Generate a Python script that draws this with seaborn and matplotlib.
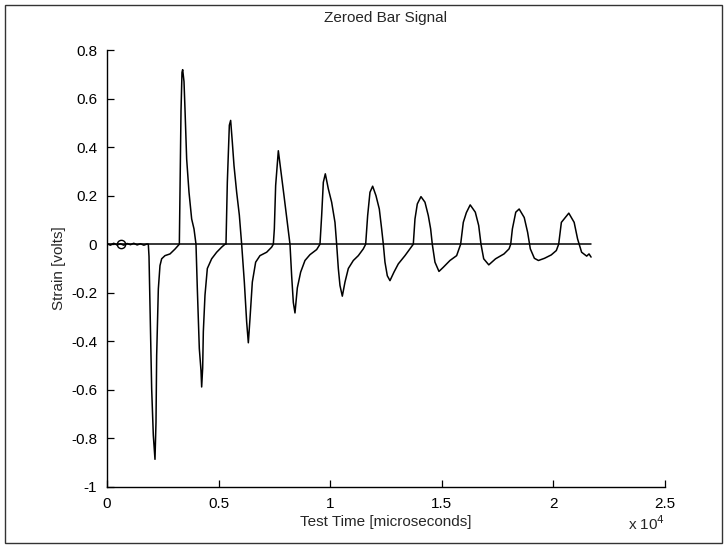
import matplotlib
matplotlib.use("Agg")
import matplotlib.pyplot as plt
from matplotlib.patches import Rectangle
import pandas as pd
import seaborn as sns

# Strain gauge trace, time in microseconds, strain in volts
time_us = [
    0, 150, 300, 450, 600, 750, 900, 1050, 1200, 1350, 1500, 1650, 1800,
    1851, 1882, 2001, 2075, 2150, 2195, 2225, 2300, 2374, 2449, 2598, 2822, 3046, 3196,
    3241, 3271, 3316, 3360, 3390, 3450, 3494, 3569, 3674, 3793, 3898, 3987,
    4047, 4136, 4211, 4241, 4286, 4316, 4390, 4495, 4689, 4913, 5137, 5286,
    5331, 5391, 5481, 5540, 5615, 5690, 5809, 5929, 6033,
    6153, 6257, 6332, 6406, 6511, 6660, 6854, 7153, 7377, 7452,
    7497, 7556, 7676, 7780, 7930, 8079, 8198,
    8273, 8348, 8422, 8527, 8676, 8870, 9094, 9393, 9542,
    9617, 9692, 9781, 9916, 10065, 10214, 10289,
    10364, 10438, 10543, 10662, 10812, 11036, 11260, 11484, 11589,
    11678, 11782, 11902, 12051, 12200, 12305, 12380,
    12454, 12559, 12678, 12857, 13051, 13350, 13574, 13723,
    13798, 13903, 14067, 14246, 14395, 14500, 14574,
    14694, 14873, 15067, 15366, 15665, 15844,
    15963, 16100, 16272, 16501, 16653, 16756,
    16877, 17105, 17409, 17786, 18014, 18087,
    18162, 18314, 18466, 18693, 18845, 18966,
    19148, 19329, 19601, 19904, 20131, 20236,
    20357, 20690, 20930, 21083, 21264, 21491, 21596, 21688,
]
strain_v = [
    0.003, -0.004, 0.004, -0.003, 0.002, -0.004, 0.003, -0.002, 0.004, -0.003, 0.002, -0.004, 0.001,
    0.0, -0.05, -0.595, -0.787, -0.886, -0.733, -0.458, -0.184, -0.088, -0.06, -0.047, -0.04, -0.02, -0.005,
    0.0, 0.228, 0.55, 0.708, 0.719, 0.67, 0.557, 0.351, 0.214, 0.104, 0.063, 0.0,
    -0.184, -0.43, -0.52, -0.588, -0.51, -0.36, -0.21, -0.10, -0.06, -0.033, -0.012, 0.0,
    0.0, 0.255, 0.49, 0.51, 0.42, 0.324, 0.214, 0.12, 0.0,
    -0.156, -0.32, -0.406, -0.307, -0.156, -0.074, -0.047, -0.033, -0.012, 0.0,
    0.063, 0.242, 0.385, 0.31, 0.2, 0.09, 0.0,
    -0.13, -0.24, -0.283, -0.18, -0.115, -0.067, -0.043, -0.022, 0.0,
    0.118, 0.255, 0.29, 0.228, 0.173, 0.09, 0.0,
    -0.10, -0.17, -0.214, -0.156, -0.10, -0.067, -0.047, -0.019, 0.0,
    0.118, 0.214, 0.239, 0.2, 0.145, 0.063, 0.0,
    -0.074, -0.13, -0.15, -0.115, -0.081, -0.047, -0.019, 0.0,
    0.104, 0.166, 0.196, 0.173, 0.118, 0.063, 0.0,
    -0.074, -0.112, -0.095, -0.067, -0.047, 0.0,
    0.09, 0.13, 0.162, 0.132, 0.077, 0.0,
    -0.06, -0.085, -0.06, -0.04, -0.019, 0.0,
    0.063, 0.132, 0.145, 0.11, 0.049, -0.019,
    -0.058, -0.067, -0.058, -0.044, -0.026, 0.0,
    0.09, 0.128, 0.09, 0.022, -0.033, -0.049, -0.04, -0.053,
]

# Zero reference line and trigger point
zero_t = [0, 21700]
zero_v = [0.0, 0.0]
trigger_t = [614]
trigger_v = [0.0]

x_ticks = [0, 5000, 10000, 15000, 20000, 25000]
x_tick_labels = ["0", "0.5", "1", "1.5", "2", "2.5"]
y_ticks = [-1, -0.8, -0.6, -0.4, -0.2, 0, 0.2, 0.4, 0.6, 0.8]
y_tick_labels = ["-1", "-0.8", "-0.6", "-0.4", "-0.2", "0", "0.2", "0.4", "0.6", "0.8"]

sns.set_style("ticks")
plt.rcParams["font.family"] = ["Liberation Sans", "DejaVu Sans"]
plt.rcParams["xtick.direction"] = "in"
plt.rcParams["ytick.direction"] = "in"

signal = pd.DataFrame({"t": time_us, "v": strain_v})
zero = pd.DataFrame({"t": zero_t, "v": zero_v})
trig = pd.DataFrame({"t": trigger_t, "v": trigger_v})

fig = plt.figure(figsize=(7.27, 5.48), dpi=100)
ax = fig.add_axes([107 / 727, 1 - 487 / 548, 558 / 727, 437 / 548])

sns.lineplot(data=zero, x="t", y="v", ax=ax, color="black", lw=1.1, sort=False, estimator=None)
sns.lineplot(data=signal, x="t", y="v", ax=ax, color="black", lw=1.1, sort=False, estimator=None)
ax.plot(trig["t"], trig["v"], "o", mfc="none", mec="black", ms=6, mew=1.0)

ax.set_xlim(0, 25000)
ax.set_ylim(-1, 0.8)
ax.set_xticks(x_ticks)
ax.set_xticklabels(x_tick_labels)
ax.set_yticks(y_ticks)
ax.set_yticklabels(y_tick_labels)
ax.tick_params(axis="both", length=5, width=0.9, colors="black", labelsize=11, pad=7)

for side in ("top", "right"):
    ax.spines[side].set_visible(False)
for side in ("left", "bottom"):
    ax.spines[side].set_color("black")
    ax.spines[side].set_linewidth(1.0)

ax.set_title("Zeroed Bar Signal", fontsize=11, pad=20)
ax.set_xlabel("Test Time [microseconds]", fontsize=11, labelpad=3)
ax.set_ylabel("Strain [volts]", fontsize=11, labelpad=4)
ax.text(1.0, -0.085, r"x 10$^{4}$", transform=ax.transAxes, ha="right", va="center",
        fontsize=11)

fig.patches.append(Rectangle((5 / 727, 5 / 548), 717 / 727, 538 / 548,
                             transform=fig.transFigure, fill=False,
                             ec="#333333", lw=1.0))

fig.savefig("out.png", dpi=100, facecolor="white")
